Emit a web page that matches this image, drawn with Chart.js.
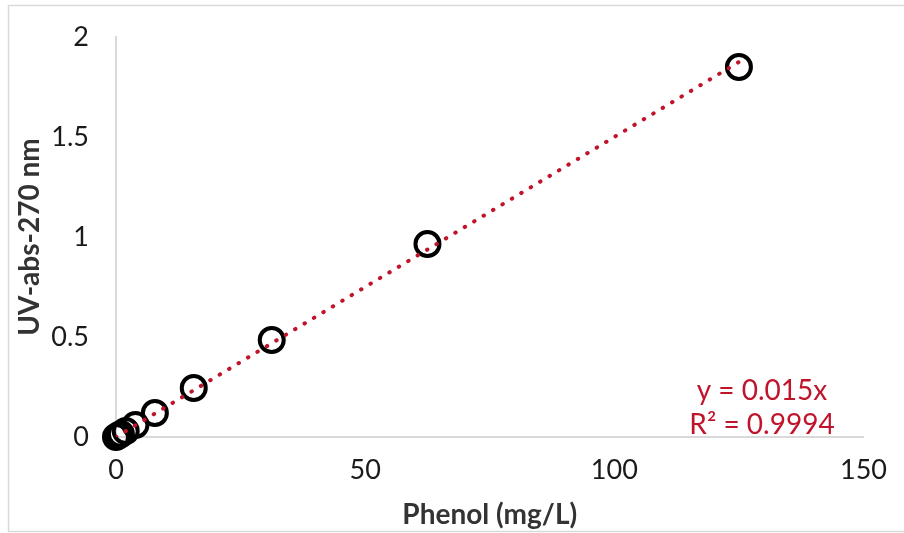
<!DOCTYPE html>
<html>
<head>
<meta charset="utf-8">
<script src="https://cdn.jsdelivr.net/npm/chart.js@4"></script>
<style>
  html, body { margin: 0; padding: 0; background: #fff; }
  #wrap { width: 904px; height: 533px; position: relative; }
</style>
</head>
<body>
<div id="wrap"><canvas id="calChart"></canvas></div>
<script>
// calibration data
const phenol = [0, 0.49, 0.98, 1.95, 3.9, 7.8, 15.6, 31.25, 62.5, 125];
const absorbance = [0, 0.007, 0.015, 0.03, 0.06, 0.12, 0.245, 0.485, 0.965, 1.85];
const xTicks = [0, 50, 100, 150];
const yTicks = [0, 0.5, 1, 1.5, 2];
const slope = 0.015;
const trendLabels = ['y = 0.015x', 'R² = 0.9994'];

const points = phenol.map((x, i) => ({ x: x, y: absorbance[i] }));
const xLast = phenol[phenol.length - 1];
const trend = [{ x: 0, y: 0 }, { x: xLast, y: slope * xLast }];

const fontFam = 'Lato, "Open Sans", sans-serif';
const red = '#c0142c';

// grey frame around the picture + trendline label
const extras = {
    id: 'extras',
    beforeDraw(chart) {
        const ctx = chart.ctx;
        ctx.save();
        ctx.strokeStyle = '#d9d9d9';
        ctx.lineWidth = 1.5;
        ctx.beginPath();
        ctx.moveTo(904, 5.5);
        ctx.lineTo(8.5, 5.5);
        ctx.lineTo(8.5, 531.5);
        ctx.lineTo(904, 531.5);
        ctx.stroke();
        ctx.restore();
    },
    afterDraw(chart) {
        const ctx = chart.ctx;
        ctx.save();
        ctx.fillStyle = red;
        ctx.font = '28px ' + fontFam;
        ctx.textAlign = 'center';
        ctx.textBaseline = 'middle';
        ctx.fillText(trendLabels[0], 762, 391);
        ctx.fillText(trendLabels[1], 762, 425);
        ctx.restore();
    }
};

const ctx = document.getElementById('calChart').getContext('2d');
new Chart(ctx, {
    type: 'scatter',
    data: {
        datasets: [{
            type: 'line',
            data: trend,
            borderColor: red,
            borderWidth: 4,
            borderDash: [0.5, 10.5],
            borderCapStyle: 'round',
            pointRadius: 0,
            fill: false
        }, {
            data: points,
            clip: false,
            pointRadius: 12,
            pointBorderWidth: 4,
            pointBorderColor: '#000',
            pointBackgroundColor: 'rgba(0,0,0,0)',
            pointHoverRadius: 12
        }]
    },
    options: {
        responsive: true,
        maintainAspectRatio: false,
        animation: false,
        layout: { padding: { left: 13, top: 37, right: 38, bottom: 1 } },
        plugins: {
            legend: { display: false },
            tooltip: { enabled: false }
        },
        scales: {
            x: {
                type: 'linear',
                min: 0,
                max: 150,
                afterBuildTicks: s => { s.ticks = xTicks.map(v => ({ value: v })); },
                afterFit: s => { s.height = 95; },
                grid: { display: false, drawTicks: false },
                border: { color: '#d9d9d9', width: 2 },
                ticks: {
                    padding: 17,
                    color: '#1a1a1a',
                    font: { family: fontFam, size: 27 },
                    callback: v => String(v)
                },
                title: {
                    display: true,
                    text: 'Phenol (mg/L)',
                    color: '#333',
                    padding: 0,
                    font: { family: fontFam, size: 28, weight: 'bold' }
                }
            },
            y: {
                type: 'linear',
                min: 0,
                max: 2,
                afterBuildTicks: s => { s.ticks = yTicks.map(v => ({ value: v })); },
                afterFit: s => {
                    s.width = 103;
                    s.paddingTop = 0;
                    s.paddingBottom = 0;
                },
                grid: { display: false, drawTicks: false },
                border: { color: '#d9d9d9', width: 2 },
                ticks: {
                    padding: 27,
                    color: '#1a1a1a',
                    font: { family: fontFam, size: 27 },
                    callback: v => String(v)
                },
                title: {
                    display: true,
                    text: 'UV-abs-270 nm',
                    color: '#333',
                    padding: 0,
                    font: { family: fontFam, size: 28, weight: 'bold' }
                }
            }
        }
    },
    plugins: [extras]
});
</script>
</body>
</html>
